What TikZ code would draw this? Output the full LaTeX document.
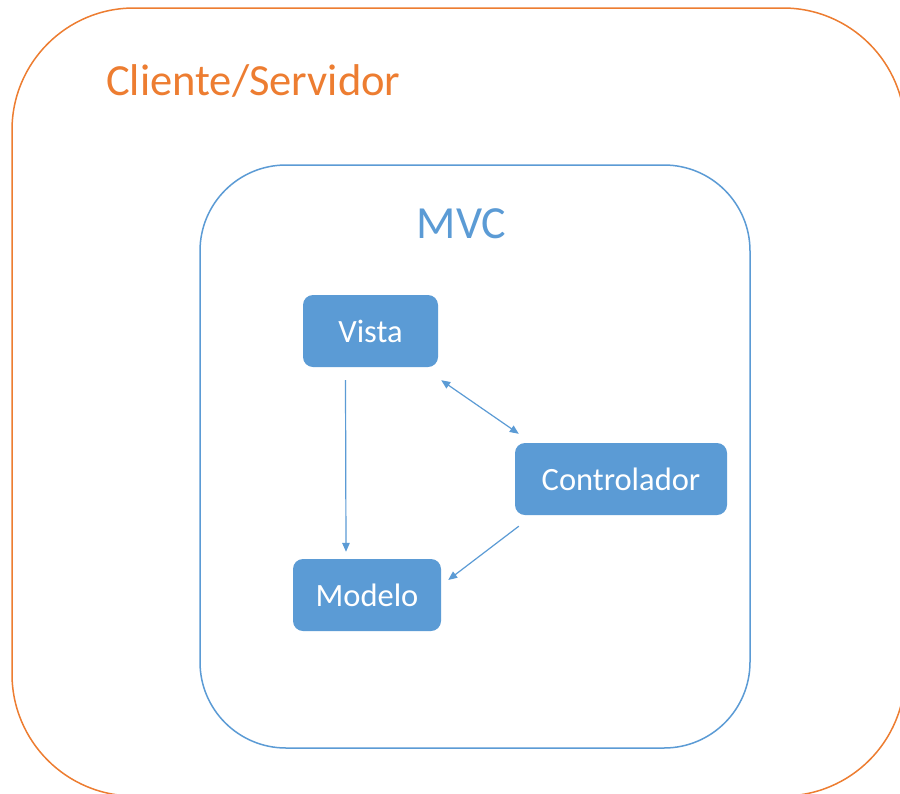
\documentclass[tikz,border=0pt]{standalone}
\usepackage{fontspec}
\setmainfont{Carlito}
\usetikzlibrary{arrows.meta}
\definecolor{accentorange}{HTML}{ED7D31}
\definecolor{accentblue}{HTML}{5B9BD5}
\begin{document}
\begin{tikzpicture}[x=1pt,y=-1pt,
  frame/.style={line width=1.5pt,rounded corners=#1},
  block/.style={rectangle,rounded corners=10pt,fill=accentblue,text=white,
    font=\fontsize{32.5}{36}\selectfont,inner sep=0pt,minimum height=72pt},
  link/.style={draw=accentblue,line width=1.2pt,
    -{Triangle[length=9pt,width=7.5pt]}},
  dlink/.style={link,{Triangle[length=9pt,width=7.5pt]}-{Triangle[length=9pt,width=7.5pt]}}]
\useasboundingbox (0,0) rectangle (900,793);
\fill[white] (0,0) rectangle (900,793);
\begin{scope}
\clip (0,0) rectangle (900,793);
% outer client/server frame
\draw[frame=122pt,draw=accentorange] (12,8) rectangle (905,796);
\end{scope}
% MVC frame
\draw[frame=86pt,draw=accentblue] (200,165) rectangle (750,748);

\node[anchor=base west,inner sep=0pt,text=accentorange,
  font=\fontsize{44.5}{48}\selectfont] (cs) at (106,95) {Cliente/Servidor};
\node[anchor=base,inner sep=0pt,text=accentblue,
  font=\fontsize{46}{50}\selectfont] (mvc) at (461.5,238) {MVC};

\node[block,minimum width=135pt] (vista) at (370.5,331) {Vista};
\node[block,minimum width=212pt] (ctrl) at (621,479) {Controlador};
\node[block,minimum width=148pt] (modelo) at (367,595) {Modelo};

\draw[link] ([shift={(-25,13)}]vista.south) -- ([shift={(-21,-7)}]modelo.north);
\draw[dlink] ([shift={(3,13)}]vista.south east) -- ([shift={(4,-9)}]ctrl.north west);
\draw[link] ([shift={(4,11)}]ctrl.south west) -- ([shift={(7,-15)}]modelo.east);
\end{tikzpicture}
\end{document}
